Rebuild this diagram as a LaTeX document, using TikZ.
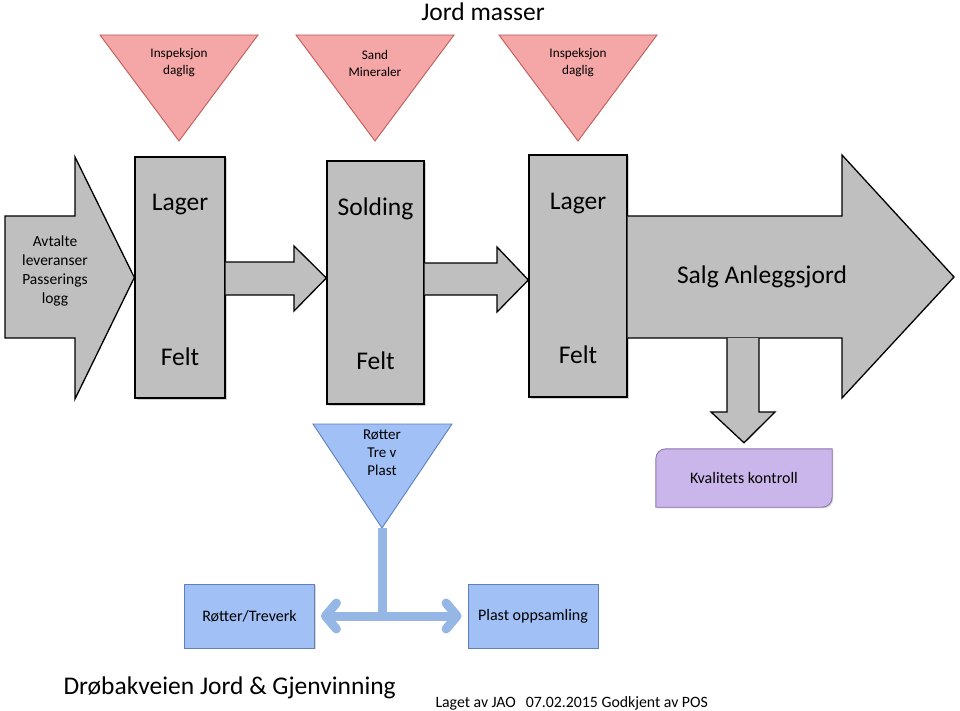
\documentclass[tikz,border=0pt]{standalone}
\usepackage{fontspec}
\setmainfont{Carlito}
\usetikzlibrary{arrows.meta,shadows,backgrounds}

\definecolor{graafyll}{RGB}{191,191,191}
\definecolor{rodfyll}{RGB}{245,166,166}
\definecolor{rodkant}{RGB}{192,92,90}
\definecolor{blaafyll}{RGB}{160,192,246}
\definecolor{blaakant}{RGB}{96,128,186}
\definecolor{blaalinje}{RGB}{150,182,230}
\definecolor{lillafyll}{RGB}{202,182,234}
\definecolor{lillakant}{RGB}{138,118,170}

\tikzset{
  graa/.style={draw=black, line width=1.3pt, fill=graafyll},
  boks/.style 2 args={graa, minimum width=#1, minimum height=#2, inner sep=0pt,
    drop shadow={shadow xshift=1.5pt, shadow yshift=-1.5pt, opacity=.35}},
  rod/.style={draw=rodkant, line width=0.9pt, fill=rodfyll},
  blaa/.style={draw=blaakant, line width=0.9pt, fill=blaafyll},
  blaaboks/.style={blaa, minimum width=130, minimum height=64, inner sep=0pt, tekst,
    drop shadow={shadow xshift=1.2pt, shadow yshift=-1.2pt, opacity=.3}},
  lilla/.style={draw=lillakant, line width=0.9pt, fill=lillafyll,
    drop shadow={shadow xshift=1.2pt, shadow yshift=-1.2pt, opacity=.3}},
  stor/.style={font=\fontsize{25.5}{30}\selectfont},
  tekst/.style={font=\fontsize{16}{19}\selectfont, align=center},
  middels/.style={font=\fontsize{15.5}{19}\selectfont, align=center},
  liten/.style={font=\fontsize{13.2}{17}\selectfont, align=center},
  pil/.style={line width=9pt, draw=blaalinje},
}

\begin{document}
\begin{tikzpicture}[x=1pt,y=-1pt]
\useasboundingbox (0,0) rectangle (960,711);

% overskrift
\node[stor] (tittel) at (483,12) {Jord masser};

% trekanter oppe
\foreach \x/\tekst/\navn in {179/{Inspeksjon\\daglig}/insp1, 375/{Sand\\Mineraler}/sand, 578/{Inspeksjon\\daglig}/insp2}{
  \filldraw[rod] (\x-79,35) -- (\x+79,35) -- (\x,141) -- cycle;
  \node[liten] (\navn) at (\x,63) {\tekst};
}

% lager og solding
\node[boks={90}{241}] (lager1) at (180,277.5) {};
\node[boks={97}{243}] (solding) at (375.5,282.5) {};
\node[boks={98}{242}] (lager2) at (578,276) {};

\node[stor] (lager1topp) at ([yshift=-48pt]lager1.north) {Lager};
\node[stor] (lager1bunn) at ([yshift=42pt]lager1.south) {Felt};
\node[stor] (soldingtopp) at ([yshift=-48pt]solding.north) {Solding};
\node[stor] (soldingbunn) at ([yshift=44pt]solding.south) {Felt};
\node[stor] (lager2topp) at ([yshift=-49pt]lager2.north) {Lager};
\node[stor] (lager2bunn) at ([yshift=43pt]lager2.south) {Felt};

% piler
\filldraw[graa] (lager1.west) -- (75,399) -- (75,338) -- (5,338) -- (5,216) -- (75,216) -- (75,157) -- cycle;
\node[middels] (inn) at (55,271) {Avtalte\\leveranser\\Passerings\\logg};

\filldraw[graa] (lager1.east |- 0,262) -- (294,262) -- (294,246) -- (solding.west |- 0,278)
  -- (294,311) -- (294,295) -- (lager1.east |- 0,295);
\filldraw[graa] (solding.east |- 0,263) -- (497,263) -- (497,247) -- (lager2.west |- 0,280)
  -- (497,312) -- (497,295) -- (solding.east |- 0,295);
\filldraw[graa] (lager2.east |- 0,216) -- (842,216) -- (842,155) -- (954,277)
  -- (842,398) -- (842,338) -- (lager2.east |- 0,338);
\node[stor] (salg) at (762,277) {Salg Anleggsjord};

% kvalitet
\node[tekst, minimum width=176, minimum height=58] (kontroll) at (744,478) {Kvalitets kontroll};
\begin{scope}[on background layer]
\filldraw[lilla] (kontroll.south west) -- ([yshift=-10pt]kontroll.north west)
  to[out=90,in=180] ([xshift=10pt]kontroll.north west) -- (kontroll.north east)
  -- ([yshift=10pt]kontroll.south east) to[out=-90,in=0] ([xshift=-10pt]kontroll.south east) -- cycle;
\end{scope}
\filldraw[graa] (727,338) -- (727,412) -- (711,412) -- ([yshift=6pt]kontroll.north)
  -- (775,412) -- (759,412) -- (759,338);

% sortering
\filldraw[blaa] (313,424) -- (452,424) -- (382,528) -- cycle;
\node[middels, font=\fontsize{15}{18}\selectfont] (rotter) at (382,453) {Røtter\\Tre v\\Plast};
\coordinate (tupp) at (382,528);

\node[blaaboks] (treverk) at (249.5,616) {Røtter/Treverk};
\node[blaaboks] (plast) at (533,616) {Plast oppsamling};

\coordinate (kryss) at (tupp |- treverk.east);
\draw[pil] (tupp) -- ([yshift=-4.5pt]kryss);
\draw[pil, {Straight Barb[round,length=11pt,width=26pt]}-{Straight Barb[round,length=11pt,width=26pt]}]
  ([xshift=6pt]treverk.east) -- ([xshift=-6pt]plast.west);

% bunntekst
\node[font=\fontsize{25.5}{30}\selectfont, anchor=west] (firma) at (60,688) {Drøbakveien Jord \& Gjenvinning};
\node[font=\fontsize{15.8}{18}\selectfont, anchor=west] (signatur) at (432,703) {Laget av JAO\hspace{10pt}07.02.2015 Godkjent av POS};
\end{tikzpicture}
\end{document}
